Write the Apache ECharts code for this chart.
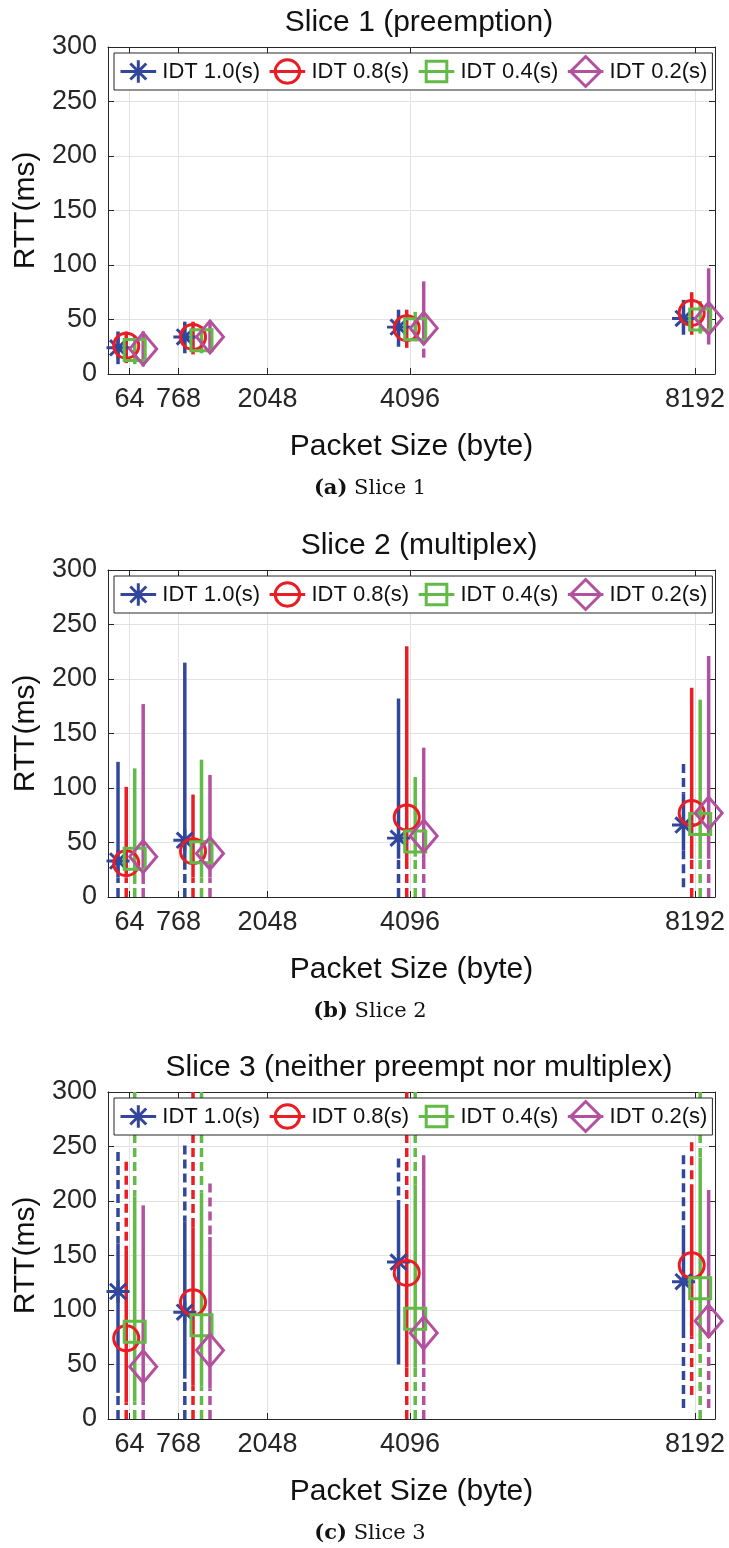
<!DOCTYPE html>
<html><head><meta charset="utf-8">
<script src="https://cdn.jsdelivr.net/npm/echarts@6/dist/echarts.min.js"></script>
<style>html,body{margin:0;padding:0;background:#fff}#c{width:729px;height:1548px}</style>
</head><body><div id="c"></div>
<script>
// ---------------- data ----------------
const xTickValues = [64, 768, 2048, 4096, 8192];
const groupPositions = [64, 1024, 4096, 8192];
const seriesNames = ['IDT 1.0(s)', 'IDT 0.8(s)', 'IDT 0.4(s)', 'IDT 0.2(s)'];
const panelTitles = ['Slice 1 (preemption)', 'Slice 2 (multiplex)', 'Slice 3 (neither preempt nor multiplex)'];
const captionTags = ['(a)', '(b)', '(c)'];
const captionTexts = ['Slice 1', 'Slice 2', 'Slice 3'];

// Slice 1
const s1_idt10_median = [24, 34, 43, 51];
const s1_idt10_low    = [9, 19, 25, 36];
const s1_idt10_high   = [39, 48, 59, 68];
const s1_idt10_wlow   = [null, null, null, null];
const s1_idt10_whigh  = [null, null, null, null];
const s1_idt08_median = [26, 34, 42, 56];
const s1_idt08_low    = [10, 18, 24, 36];
const s1_idt08_high   = [39, 48, 59, 75];
const s1_idt08_wlow   = [null, null, null, null];
const s1_idt08_whigh  = [null, null, null, null];
const s1_idt04_median = [22, 31, 41, 50];
const s1_idt04_low    = [9, 19, 30, 37];
const s1_idt04_high   = [35, 44, 57, 67];
const s1_idt04_wlow   = [null, null, null, null];
const s1_idt04_whigh  = [null, null, null, null];
const s1_idt02_median = [23, 34, 42, 51];
const s1_idt02_low    = [7, 21, 27, 27];
const s1_idt02_high   = [39, 49, 85, 97];
const s1_idt02_wlow   = [null, null, 15, null];
const s1_idt02_whigh  = [null, null, null, null];

// Slice 2
const s2_idt10_median = [33, 52, 54, 66];
const s2_idt10_low    = [18, 25, 35, 43];
const s2_idt10_high   = [124, 215, 182, 95];
const s2_idt10_wlow   = [0, 0, 0, 9];
const s2_idt10_whigh  = [null, null, null, 122];
const s2_idt08_median = [31, 42, 73, 77];
const s2_idt08_low    = [18, 18, 34, 35];
const s2_idt08_high   = [101, 94, 230, 192];
const s2_idt08_wlow   = [0, 0, 0, 0];
const s2_idt08_whigh  = [null, null, null, null];
const s2_idt04_median = [35, 41, 51, 67];
const s2_idt04_low    = [12, 18, 37, 35];
const s2_idt04_high   = [118, 126, 110, 181];
const s2_idt04_wlow   = [0, 0, 0, 0];
const s2_idt04_whigh  = [null, null, null, null];
const s2_idt02_median = [37, 40, 56, 77];
const s2_idt02_low    = [12, 18, 34, 35];
const s2_idt02_high   = [177, 112, 137, 221];
const s2_idt02_wlow   = [0, 0, 0, 0];
const s2_idt02_whigh  = [null, null, null, null];

// Slice 3
const s3_idt10_median = [117, 98, 144, 126];
const s3_idt10_low    = [24, 37, 50, 77];
const s3_idt10_high   = [161, 181, 201, 175];
const s3_idt10_wlow   = [0, 0, null, 10];
const s3_idt10_whigh  = [245, 251, 239, 242];
const s3_idt08_median = [74, 107, 134, 141];
const s3_idt08_low    = [15, 31, 47, 76];
const s3_idt08_high   = [155, 176, 189, 210];
const s3_idt08_wlow   = [0, 0, 0, 22];
const s3_idt08_whigh  = [236, 300, 300, 254];
const s3_idt04_median = [80, 86, 92, 120];
const s3_idt04_low    = [16, 30, 47, 71];
const s3_idt04_high   = [204, 208, 215, 240];
const s3_idt04_wlow   = [0, 0, 0, 0];
const s3_idt04_whigh  = [300, 300, 300, 300];
const s3_idt02_median = [48, 63, 79, 90];
const s3_idt02_low    = [16, 28, 50, 76];
const s3_idt02_high   = [196, 167, 242, 210];
const s3_idt02_wlow   = [0, 0, 0, 10];
const s3_idt02_whigh  = [null, 216, null, null];

const panels = [
  [
    [s1_idt10_median, s1_idt10_low, s1_idt10_high, s1_idt10_wlow, s1_idt10_whigh],
    [s1_idt08_median, s1_idt08_low, s1_idt08_high, s1_idt08_wlow, s1_idt08_whigh],
    [s1_idt04_median, s1_idt04_low, s1_idt04_high, s1_idt04_wlow, s1_idt04_whigh],
    [s1_idt02_median, s1_idt02_low, s1_idt02_high, s1_idt02_wlow, s1_idt02_whigh]
  ],
  [
    [s2_idt10_median, s2_idt10_low, s2_idt10_high, s2_idt10_wlow, s2_idt10_whigh],
    [s2_idt08_median, s2_idt08_low, s2_idt08_high, s2_idt08_wlow, s2_idt08_whigh],
    [s2_idt04_median, s2_idt04_low, s2_idt04_high, s2_idt04_wlow, s2_idt04_whigh],
    [s2_idt02_median, s2_idt02_low, s2_idt02_high, s2_idt02_wlow, s2_idt02_whigh]
  ],
  [
    [s3_idt10_median, s3_idt10_low, s3_idt10_high, s3_idt10_wlow, s3_idt10_whigh],
    [s3_idt08_median, s3_idt08_low, s3_idt08_high, s3_idt08_wlow, s3_idt08_whigh],
    [s3_idt04_median, s3_idt04_low, s3_idt04_high, s3_idt04_wlow, s3_idt04_whigh],
    [s3_idt02_median, s3_idt02_low, s3_idt02_high, s3_idt02_wlow, s3_idt02_whigh]
  ]
];

// ---------------- styles / layout ----------------
const FONT = "'Liberation Sans', Arial, Helvetica, sans-serif";
const AX = '#262626';
const GRIDC = '#e2e2e2';
const colors = ['#32479c', '#ec1c24', '#63bb47', '#b3519f'];
const dodge = [-165, -47, 75, 197];
const gridTops = [47, 570, 1092];
const GRID_LEFT = 108, GRID_W = 607, GRID_H = 327;
const XMIN = -245, XMAX = 8480;

const starPath = 'path://M10,0L10,20M0,10L20,10M3,3L17,17M17,3L3,17';
const diamondPath = 'path://M10,0L20,10L10,20L0,10Z';
const markerSymbols = [starPath, 'circle', 'rect', diamondPath];
const markerSizes = [[23, 22], 25, 21, [27, 32]];

const legendIcons = [
  'path://M19,0M19,32M0,16L38,16M19,4L19,28M10.5,7.5L27.5,24.5M27.5,7.5L10.5,24.5',
  'path://M19,0M19,32M0,16L38,16M6,16A13,12.5,0,1,1,32,16A13,12.5,0,1,1,6,16',
  'path://M19,0M19,32M0,16L38,16M8,5L30,5L30,27L8,27Z',
  'path://M19,0L35,16L19,32L3,16ZM0,16L38,16'
];

function segRender(color, dashed) {
  return function (params, api) {
    const x = api.value(0), a = api.value(1), b = api.value(2);
    const p1 = api.coord([x, a]), p2 = api.coord([x, b]);
    return {
      type: 'line',
      shape: { x1: p1[0], y1: p1[1], x2: p2[0], y2: p2[1] },
      style: { stroke: color, lineWidth: 3.5, lineDash: dashed ? [9, 5] : null, fill: null }
    };
  };
}

const grid = [], xAxis = [], yAxis = [], series = [], legend = [], graphic = [];

panels.forEach(function (panel, p) {
  grid.push({ left: GRID_LEFT, top: gridTops[p], width: GRID_W, height: GRID_H });
  const xa = xAxis.length;
  xAxis.push({
    type: 'value', gridIndex: p, min: XMIN, max: XMAX, position: 'bottom',
    axisLine: { show: true, onZero: false, lineStyle: { color: AX, width: 1 } },
    axisTick: { show: true, inside: true, length: 6, customValues: xTickValues, lineStyle: { color: AX } },
    axisLabel: { show: true, customValues: xTickValues, fontSize: 27, color: AX, margin: 12, fontFamily: FONT,
      formatter: function (v) { return String(v); } },
    splitLine: { show: true, lineStyle: { color: GRIDC, width: 1 } },
    name: 'Packet Size (byte)', nameLocation: 'middle', nameGap: 58,
    nameTextStyle: { fontSize: 30, color: '#111', fontFamily: FONT }
  });
  xAxis.push({
    type: 'value', gridIndex: p, min: XMIN, max: XMAX, position: 'top',
    axisLine: { show: true, onZero: false, lineStyle: { color: AX, width: 1 } },
    axisTick: { show: true, inside: true, length: 6, customValues: xTickValues, lineStyle: { color: AX } },
    axisLabel: { show: false }, splitLine: { show: false }
  });
  const ya = yAxis.length;
  yAxis.push({
    type: 'value', gridIndex: p, min: 0, max: 300, interval: 50, position: 'left',
    axisLine: { show: true, onZero: false, lineStyle: { color: AX, width: 1 } },
    axisTick: { show: true, inside: true, length: 6, lineStyle: { color: AX } },
    axisLabel: { show: true, fontSize: 27, color: AX, margin: 11, fontFamily: FONT },
    splitLine: { show: true, lineStyle: { color: GRIDC, width: 1 } },
    name: 'RTT(ms)', nameLocation: 'middle', nameGap: 62,
    nameTextStyle: { fontSize: 30, color: '#111', fontFamily: FONT }
  });
  yAxis.push({
    type: 'value', gridIndex: p, min: 0, max: 300, interval: 50, position: 'right',
    axisLine: { show: true, onZero: false, lineStyle: { color: AX, width: 1 } },
    axisTick: { show: true, inside: true, length: 6, lineStyle: { color: AX } },
    axisLabel: { show: false }, splitLine: { show: false }
  });

  panel.forEach(function (s, si) {
    const med = s[0], lo = s[1], hi = s[2], wlo = s[3], whi = s[4];
    const solid = [], dashed = [], pts = [];
    groupPositions.forEach(function (gx, gi) {
      const x = gx + dodge[si];
      solid.push([x, lo[gi], hi[gi]]);
      if (wlo[gi] != null) dashed.push([x, wlo[gi], lo[gi]]);
      if (whi[gi] != null) dashed.push([x, whi[gi], hi[gi]]);
      pts.push([x, med[gi]]);
    });
    series.push({
      type: 'custom', name: seriesNames[si], xAxisIndex: xa, yAxisIndex: ya, clip: true,
      renderItem: segRender(colors[si], false), data: solid, z: 2, silent: true
    });
    series.push({
      type: 'custom', name: seriesNames[si], xAxisIndex: xa, yAxisIndex: ya, clip: true,
      renderItem: segRender(colors[si], true), data: dashed, z: 2, silent: true
    });
    series.push({
      type: 'scatter', name: seriesNames[si], xAxisIndex: xa, yAxisIndex: ya,
      symbol: markerSymbols[si], symbolSize: markerSizes[si],
      itemStyle: { color: 'rgba(0,0,0,0)', borderColor: colors[si], borderWidth: 3, opacity: 1 },
      data: pts, z: 3, silent: true
    });
  });

  legend.push({
    top: gridTops[p] + 6, left: GRID_LEFT + 6, orient: 'horizontal',
    itemWidth: 38, itemHeight: 30, itemGap: 8, padding: [2, 5],
    backgroundColor: '#fff', borderColor: AX, borderWidth: 1, borderRadius: 0,
    selectedMode: false,
    textStyle: { fontSize: 22, color: '#111', fontFamily: FONT },
    data: seriesNames.map(function (n, i) {
      return { name: n, icon: legendIcons[i],
        itemStyle: { color: 'rgba(0,0,0,0)', borderColor: colors[i], borderWidth: 3 } };
    })
  });

  graphic.push({
    type: 'text', x: 419, y: gridTops[p] - 24,
    style: { text: panelTitles[p], font: '30px ' + FONT, fill: '#111', align: 'center', verticalAlign: 'middle' }
  });
  graphic.push({
    type: 'text', x: 370, y: gridTops[p] + 442,
    style: {
      text: '{b|' + captionTags[p] + '} ' + captionTexts[p],
      font: '21px "DejaVu Serif", serif', fill: '#111', align: 'center', verticalAlign: 'middle',
      rich: { b: { fontWeight: 'bold', fontSize: 21, fontFamily: '"DejaVu Serif", serif' } }
    }
  });
});

const chart = echarts.init(document.getElementById('c'), null, { renderer: 'canvas' });
chart.setOption({
  animation: false,
  backgroundColor: '#fff',
  grid: grid, xAxis: xAxis, yAxis: yAxis, series: series, legend: legend, graphic: graphic
});
</script>
</body></html>
